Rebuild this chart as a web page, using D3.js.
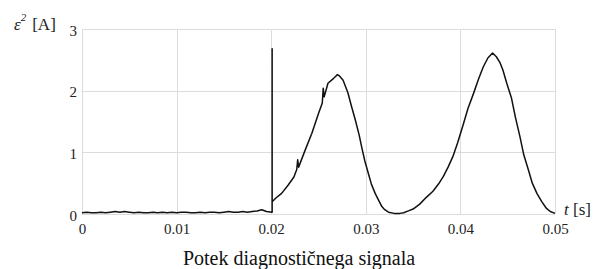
<!DOCTYPE html>
<html>
<head>
<meta charset="utf-8">
<script src="https://cdn.jsdelivr.net/npm/d3@7"></script>
<style>
  body { margin: 0; background: #fff; }
  .grid line { stroke: #dcdcdc; stroke-width: 1; }
</style>
</head>
<body>
<script>
const width = 609;
const height = 269;
const margin = { top: 29, right: 54, bottom: 55, left: 82 };
const serif = "'Liberation Serif', 'Times New Roman', serif";

// time [s]
const times = [
  0, 0.0005, 0.001, 0.0015, 0.002, 0.0025, 0.003, 0.0035, 0.004, 0.0045,
  0.005, 0.0055, 0.006, 0.0065, 0.007, 0.0075, 0.008, 0.0085, 0.009, 0.0095,
  0.01, 0.0105, 0.011, 0.0115, 0.012, 0.0125, 0.013, 0.0135, 0.014, 0.0145,
  0.015, 0.0155, 0.016, 0.0165, 0.017, 0.0175, 0.018, 0.0185, 0.019, 0.0195,
  0.0201, 0.0201, 0.0201,
  0.0205, 0.0211, 0.0218, 0.0224, 0.0227, 0.0228, 0.0229, 0.0236, 0.0243, 0.025,
  0.0254, 0.0255, 0.0256, 0.026, 0.0266, 0.0268, 0.027, 0.0272, 0.0276, 0.0281,
  0.0285, 0.0289, 0.0293, 0.0296, 0.0299, 0.0303, 0.0306, 0.031, 0.0314, 0.0317,
  0.032, 0.0324, 0.033, 0.0336, 0.034, 0.0345, 0.035, 0.0357, 0.0364, 0.0371,
  0.0377, 0.0382, 0.0387, 0.0392, 0.0397, 0.0403, 0.0408, 0.0414, 0.0419, 0.0424,
  0.0429, 0.0434, 0.0438, 0.0442, 0.0445, 0.0449, 0.0454, 0.0458, 0.0463, 0.0467,
  0.0472, 0.0476, 0.0481, 0.0486, 0.0491, 0.0495, 0.05
];

// diagnostic signal eps^2 [A]
const signal = [
  0.02, 0.03, 0.02, 0.02, 0.03, 0.02, 0.03, 0.04, 0.03, 0.04,
  0.03, 0.02, 0.03, 0.02, 0.02, 0.03, 0.02, 0.03, 0.02, 0.03,
  0.02, 0.03, 0.03, 0.02, 0.02, 0.03, 0.02, 0.03, 0.03, 0.02,
  0.03, 0.04, 0.03, 0.03, 0.04, 0.03, 0.04, 0.05, 0.07, 0.04,
  0.03, 2.68, 0.20,
  0.26, 0.335, 0.47, 0.60, 0.72, 0.88, 0.76, 1.04, 1.31, 1.63,
  1.80, 2.04, 1.90, 2.12, 2.20, 2.23, 2.26, 2.24, 2.17, 1.97,
  1.74, 1.52, 1.28, 1.06, 0.86, 0.64, 0.48, 0.33, 0.21, 0.12,
  0.07, 0.03, 0.01, 0.01, 0.02, 0.05, 0.08, 0.16, 0.27, 0.37,
  0.49, 0.61, 0.76, 0.93, 1.15, 1.45, 1.71, 1.96, 2.18, 2.38,
  2.53, 2.61, 2.55, 2.45, 2.33, 2.12, 1.88, 1.58, 1.25, 0.96,
  0.71, 0.50, 0.33, 0.20, 0.09, 0.04, 0.01
];

const xTicks = [0, 0.01, 0.02, 0.03, 0.04, 0.05];
const xTickLabels = ["0", "0.01", "0.02", "0.03", "0.04", "0.05"];
const yTicks = [0, 1, 2, 3];
const yTickLabels = ["0", "1", "2", "3"];

const data = times.map((t, i) => ({ t: t, v: signal[i] }));

const innerW = width - margin.left - margin.right;
const innerH = height - margin.top - margin.bottom;

const svg = d3.select("body")
    .append("svg")
    .attr("width", width)
    .attr("height", height);

const plot = svg.append("g")
    .attr("transform", `translate(${margin.left},${margin.top})`);

const x = d3.scaleLinear().domain([0, 0.05]).range([0, innerW]);
const y = d3.scaleLinear().domain([0, 3]).range([innerH, 0]);

// grid
const grid = plot.append("g").attr("class", "grid");
grid.selectAll(".vx")
    .data(xTicks)
    .enter()
    .append("line")
    .attr("x1", d => Math.round(x(d)) + 0.5)
    .attr("x2", d => Math.round(x(d)) + 0.5)
    .attr("y1", 0)
    .attr("y2", innerH);
grid.selectAll(".hy")
    .data(yTicks)
    .enter()
    .append("line")
    .attr("x1", 0)
    .attr("x2", innerW)
    .attr("y1", d => Math.round(y(d)) + 0.5)
    .attr("y2", d => Math.round(y(d)) + 0.5);

// axes (labels only)
const xAxis = d3.axisBottom(x)
    .tickValues(xTicks)
    .tickSize(0)
    .tickPadding(6)
    .tickFormat((d, i) => xTickLabels[i]);
plot.append("g")
    .attr("transform", `translate(0,${innerH})`)
    .call(xAxis)
    .call(g => g.select(".domain").remove())
    .selectAll("text")
    .style("font-family", serif)
    .style("font-size", "15px")
    .attr("fill", "#222")
    .attr("dy", "0.95em");

const yAxis = d3.axisLeft(y)
    .tickValues(yTicks)
    .tickSize(0)
    .tickPadding(5)
    .tickFormat((d, i) => yTickLabels[i]);
plot.append("g")
    .call(yAxis)
    .call(g => g.select(".domain").remove())
    .selectAll("text")
    .style("font-family", serif)
    .style("font-size", "15px")
    .attr("fill", "#222")
    .attr("dy", "0.4em");

// signal line
const line = d3.line()
    .x(d => x(d.t))
    .y(d => y(d.v));

plot.append("path")
    .datum(data)
    .attr("fill", "none")
    .attr("stroke", "#111")
    .attr("stroke-width", 1.5)
    .attr("stroke-linejoin", "round")
    .attr("d", line);

// axis titles
const yLabel = svg.append("text")
    .attr("x", 14)
    .attr("y", 30)
    .style("font-family", serif)
    .style("font-size", "17px")
    .attr("fill", "#222");
yLabel.append("tspan").style("font-style", "italic").text("ε");
yLabel.append("tspan").attr("dy", -9).style("font-size", "11px").style("font-style", "italic").text("2");
yLabel.append("tspan").attr("dy", 9).attr("dx", 6).text("[A]");

const xLabel = svg.append("text")
    .attr("x", 564)
    .attr("y", 215)
    .style("font-family", serif)
    .style("font-size", "17px")
    .attr("fill", "#222");
xLabel.append("tspan").style("font-style", "italic").text("t");
xLabel.append("tspan").text(" [s]");

svg.append("text")
    .attr("x", 299)
    .attr("y", 265)
    .attr("text-anchor", "middle")
    .style("font-family", serif)
    .style("font-size", "20px")
    .attr("fill", "#111")
    .text("Potek diagnostičnega signala");
</script>
</body>
</html>
